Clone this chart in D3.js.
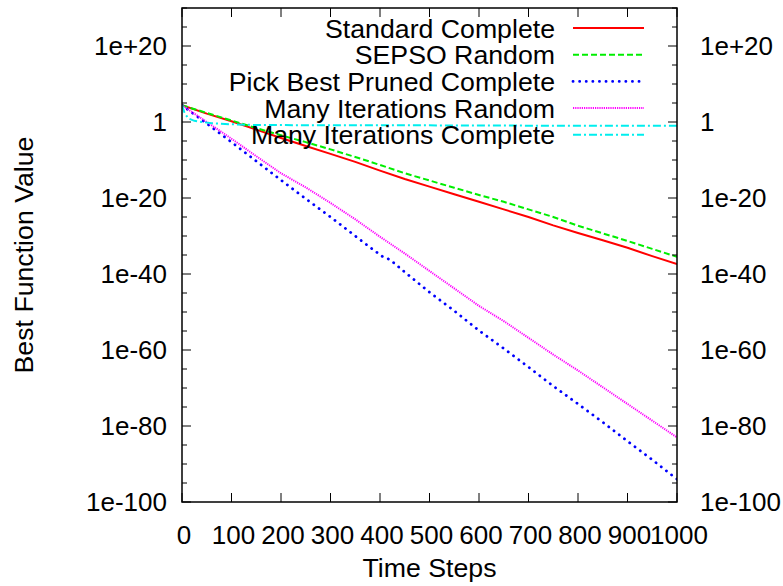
<!DOCTYPE html>
<html>
<head>
<meta charset="utf-8">
<script src="https://cdn.jsdelivr.net/npm/d3@7"></script>
<style>
  html, body { margin: 0; padding: 0; background: #fff; }
  text { font-family: "Liberation Sans", Arial, Helvetica, sans-serif; fill: #000; }
</style>
</head>
<body>
<svg id="chart" width="783" height="586"></svg>
<script>
// ---- data ----
const steps = [0,50,100,150,200,250,300,350,400,450,500,550,600,650,700,750,800,850,900,950,1000];
const standardComplete = [2.5e4,1.6e2,1.6,1e-2,6.3e-5,5e-7,4e-9,3.2e-11,1.6e-13,1e-15,1e-17,1e-19,1e-21,1e-23,1e-25,6.3e-28,6.3e-30,7.9e-32,7.9e-34,5e-36,4e-38];
const sepsoRandom = [2.5e4,2.5e2,2.5,2.5e-2,3.2e-4,5e-6,6.3e-8,6.3e-10,5e-12,3.2e-14,4e-16,5e-18,6.3e-20,1e-21,1e-23,1e-25,5e-28,5e-30,5e-32,4e-34,3.2e-36];
const pickBestSteps = [0,50,100,150,200,250,300,350,380,405,420,450,500,550,600,650,700,750,800,850,900,950,1000];
const pickBestPrunedComplete = [2.5e4,4e-1,5e-6,5e-11,5e-16,6.3e-21,1e-25,1e-30,1e-33,4e-36,6.3e-37,3.2e-40,1.6e-45,2e-50,1.3e-55,2.5e-60,3.2e-65,3.2e-70,6.3e-75,1e-79,1e-84,1.3e-89,1e-94];
const manyIterationsRandom = [2.5e4,1,4e-5,1e-9,3.2e-14,6.3e-18,5e-22,2.5e-26,6.3e-31,2.5e-35,6.3e-40,1.6e-44,4e-49,4e-53,1.6e-57,6.3e-62,4e-66,1.6e-70,6.3e-75,2.5e-79,1e-83];
const manyCompleteSteps = [0,5,12,25,40,60,100,150,300,500,700,1000];
const manyIterationsComplete = [2.5e4,3.2e2,10,2,1,0.5,0.25,0.16,0.14,0.13,0.11,0.1];

const xTicks = [0,100,200,300,400,500,600,700,800,900,1000];
const yTicks = [1e20,1,1e-20,1e-40,1e-60,1e-80,1e-100];
const yTickLabels = ["1e+20","1","1e-20","1e-40","1e-60","1e-80","1e-100"];
const yMinorTicks = [1e30,1e25,1e15,1e10,1e5,1e-5,1e-10,1e-15,1e-25,1e-30,1e-35,1e-45,1e-50,1e-55,1e-65,1e-70,1e-75,1e-85,1e-90,1e-95];

const seriesNames = ["Standard Complete","SEPSO Random","Pick Best Pruned Complete","Many Iterations Random","Many Iterations Complete"];
const seriesColors = ["#ff0000","#00ee00","#0000ff","#ff00ff","#00eeee"];
const seriesDash = [null,"6,3","0.1,6.5","1.2,1","8,3,2,3"];

const series = [
  {x: steps, y: standardComplete},
  {x: steps, y: sepsoRandom},
  {x: pickBestSteps, y: pickBestPrunedComplete},
  {x: steps, y: manyIterationsRandom},
  {x: manyCompleteSteps, y: manyIterationsComplete}
];

// ---- layout ----
const L = 182, R = 677, T = 8, B = 502;
const FS = 26, FS2 = 26.7;
const svg = d3.select("#chart");
const x = d3.scaleLinear().domain([0,1000]).range([L,R]);
const y = d3.scaleLog().domain([1e-100,1e30]).range([B,T]);

const widths = [2, 2, 2.8, 2, 2];
const caps = ["butt","butt","round","butt","butt"];

// curves (drawn first, frame on top)
svg.append("clipPath").attr("id","clip").append("rect")
  .attr("x",L).attr("y",T).attr("width",R-L).attr("height",B-T);
const line = d3.line().x(d => x(d[0])).y(d => y(d[1]));
const g = svg.append("g").attr("clip-path","url(#clip)");
series.forEach((s,i) => {
  const pts = s.x.map((v,k) => [v, s.y[k]]);
  g.append("path").datum(pts)
    .attr("d", line)
    .attr("fill","none")
    .attr("stroke", seriesColors[i])
    .attr("stroke-width", widths[i])
    .attr("stroke-linecap", caps[i])
    .attr("stroke-dasharray", seriesDash[i]);
});

// ticks
const tk = svg.append("g").attr("stroke","#000").attr("stroke-width",1);
xTicks.forEach(v => {
  tk.append("line").attr("x1",x(v)).attr("x2",x(v)).attr("y1",B).attr("y2",B-9);
  tk.append("line").attr("x1",x(v)).attr("x2",x(v)).attr("y1",T).attr("y2",T+9);
});
yTicks.forEach(v => {
  tk.append("line").attr("x1",L).attr("x2",L+9).attr("y1",y(v)).attr("y2",y(v));
  tk.append("line").attr("x1",R).attr("x2",R-9).attr("y1",y(v)).attr("y2",y(v));
});
yMinorTicks.forEach(v => {
  tk.append("line").attr("x1",L).attr("x2",L+5).attr("y1",y(v)).attr("y2",y(v));
  tk.append("line").attr("x1",R).attr("x2",R-5).attr("y1",y(v)).attr("y2",y(v));
});

// frame
svg.append("rect").attr("x",L).attr("y",T).attr("width",R-L).attr("height",B-T)
  .attr("fill","none").attr("stroke","#000").attr("stroke-width",1.5);

// tick labels
xTicks.forEach(v => {
  svg.append("text").attr("x",x(v)+2).attr("y",B+42).attr("text-anchor","middle")
    .attr("font-size",FS).text(String(v));
});
yTicks.forEach((v,i) => {
  svg.append("text").attr("x",L-15).attr("y",y(v)+9).attr("text-anchor","end")
    .attr("font-size",FS).text(yTickLabels[i]);
  svg.append("text").attr("x",R+23).attr("y",y(v)+9).attr("text-anchor","start")
    .attr("font-size",FS).text(yTickLabels[i]);
});

// axis titles
svg.append("text").attr("x",(L+R)/2).attr("y",577).attr("text-anchor","middle")
  .attr("font-size",FS2).text("Time Steps");
svg.append("text").attr("transform",`translate(33,${(T+B)/2}) rotate(-90)`)
  .attr("text-anchor","middle").attr("font-size",FS2).text("Best Function Value");

// legend
const legY0 = 28, legDY = 26.7;
seriesNames.forEach((name,i) => {
  const yy = legY0 + i*legDY;
  svg.append("text").attr("x",555).attr("y",yy+9.5).attr("text-anchor","end")
    .attr("font-size",FS2).text(name);
  svg.append("line").attr("x1",573).attr("x2",644).attr("y1",yy).attr("y2",yy)
    .attr("stroke",seriesColors[i]).attr("stroke-width", widths[i])
    .attr("stroke-linecap", caps[i])
    .attr("stroke-dasharray",seriesDash[i]);
});
</script>
</body>
</html>
